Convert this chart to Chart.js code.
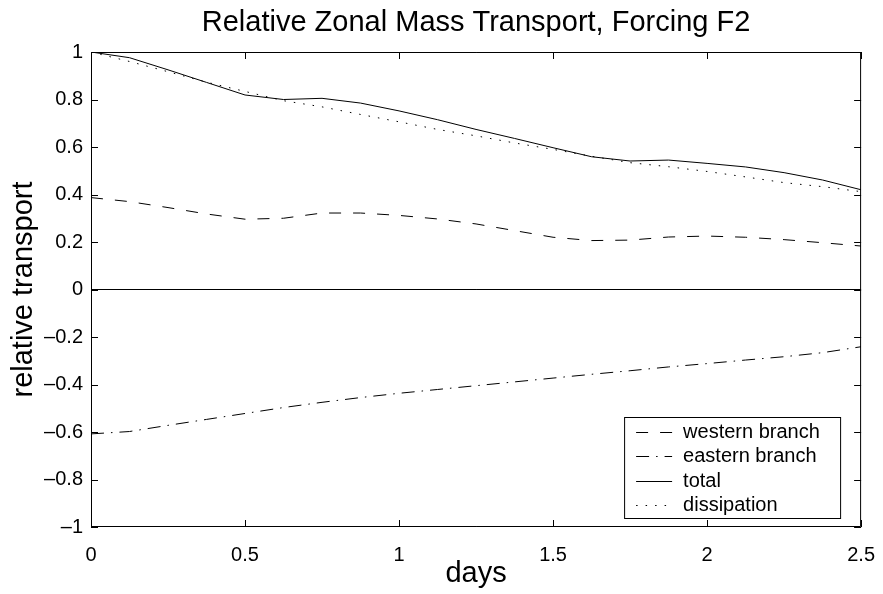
<!DOCTYPE html>
<html>
<head>
<meta charset="utf-8">
<title>Relative Zonal Mass Transport</title>
<script src="https://cdn.jsdelivr.net/npm/chart.js@4.4.1/dist/chart.umd.min.js"></script>
<style>
  body { margin: 0; background: #fff; }
  canvas { display: block; }
</style>
</head>
<body>
<canvas id="grafico" width="883" height="594"></canvas>
<script>
const days = [0, 0.125, 0.25, 0.375, 0.5, 0.625, 0.75, 0.875, 1, 1.125, 1.25,
              1.375, 1.5, 1.625, 1.75, 1.875, 2, 2.125, 2.25, 2.375, 2.5];
const western = [0.387, 0.37, 0.345, 0.318, 0.296, 0.30, 0.322, 0.322, 0.312, 0.297, 0.276,
                 0.248, 0.22, 0.206, 0.208, 0.221, 0.225, 0.22, 0.21, 0.197, 0.183];
const eastern = [-0.608, -0.598, -0.572, -0.547, -0.522, -0.497, -0.475, -0.455, -0.437, -0.421, -0.405,
                 -0.389, -0.373, -0.357, -0.342, -0.326, -0.312, -0.297, -0.283, -0.266, -0.241];
const total = [1.0, 0.976, 0.925, 0.872, 0.819, 0.80, 0.805, 0.785, 0.752, 0.715, 0.674,
               0.636, 0.597, 0.559, 0.541, 0.545, 0.531, 0.516, 0.492, 0.461, 0.42];
const dissipation = [1.0, 0.96, 0.917, 0.873, 0.834, 0.795, 0.769, 0.737, 0.706, 0.674, 0.647,
                     0.617, 0.59, 0.561, 0.534, 0.517, 0.497, 0.474, 0.45, 0.433, 0.412];
const seriesNames = ['western branch', 'eastern branch', 'total', 'dissipation'];
const xTickLabels = ['0', '0.5', '1', '1.5', '2', '2.5'];
const yTickLabels = ['\u20131', '\u20130.8', '\u20130.6', '\u20130.4', '\u20130.2', '0',
                     '0.2', '0.4', '0.6', '0.8', '1'];

const fonte = 'Helvetica, Arial, "Liberation Sans", sans-serif';

function pontos(valores) {
	return days.map((d, i) => ({x: d, y: valores[i]}));
}

// inward ticks on all four sides plus the box, matlab style
const moldura = {
	id: 'moldura',
	afterDraw(chart) {
		const ctx = chart.ctx;
		const a = chart.chartArea;
		const sx = chart.scales.x, sy = chart.scales.y;
		const len = 7;
		ctx.save();
		ctx.strokeStyle = '#000';
		ctx.lineWidth = 1;
		ctx.beginPath();
		ctx.rect(a.left + 0.5, a.top + 0.5, a.right - a.left - 1, a.bottom - a.top - 1);
		sx.ticks.forEach(t => {
			const px = Math.round(sx.getPixelForValue(t.value)) + 0.5;
			ctx.moveTo(px, a.bottom); ctx.lineTo(px, a.bottom - len);
			ctx.moveTo(px, a.top); ctx.lineTo(px, a.top + len);
		});
		sy.ticks.forEach(t => {
			const py = Math.round(sy.getPixelForValue(t.value)) + 0.5;
			ctx.moveTo(a.left, py); ctx.lineTo(a.left + len, py);
			ctx.moveTo(a.right, py); ctx.lineTo(a.right - len, py);
		});
		ctx.stroke();
		ctx.restore();
	}
};

// legend box inside the lower right corner of the plot
const legendaInterna = {
	id: 'legendaInterna',
	afterDraw(chart) {
		const ctx = chart.ctx;
		const a = chart.chartArea;
		const w = 216, h = 101;
		const x0 = a.right - 21 - w, y0 = a.bottom - 9 - h;
		ctx.save();
		ctx.fillStyle = '#fff';
		ctx.fillRect(x0, y0, w, h);
		ctx.strokeStyle = '#000';
		ctx.lineWidth = 1;
		ctx.strokeRect(x0 + 0.5, y0 + 0.5, w, h);
		ctx.font = '20px ' + fonte;
		ctx.textBaseline = 'middle';
		ctx.fillStyle = '#000';
		chart.data.datasets.forEach((ds, i) => {
			const yy = Math.round(y0 + 15 + i * 24.4) + 0.5;
			ctx.setLineDash(ds.borderDash || []);
			ctx.lineWidth = ds.borderWidth;
			ctx.beginPath();
			ctx.moveTo(x0 + 12, yy);
			ctx.lineTo(x0 + 48, yy);
			ctx.stroke();
			ctx.setLineDash([]);
			ctx.fillText(ds.label, x0 + 59, yy);
		});
		ctx.restore();
	}
};

const linha = (label, valores, dash) => ({
	label: label,
	data: pontos(valores),
	borderColor: '#000',
	borderWidth: 1,
	borderDash: dash,
	pointRadius: 0,
	tension: 0,
	fill: false
});

new Chart(document.getElementById('grafico').getContext('2d'), {
	type: 'line',
	data: {
		datasets: [
			linha(seriesNames[0], western, [12, 12]),
			linha(seriesNames[1], eastern, [13, 7, 1.5, 7]),
			linha(seriesNames[2], total, []),
			linha(seriesNames[3], dissipation, [1.5, 8])
		]
	},
	options: {
		responsive: false,
		animation: false,
		layout: {padding: {left: 0, right: 18, top: 0, bottom: 0}},
		plugins: {
			legend: {display: false},
			tooltip: {enabled: false},
			title: {
				display: true,
				text: 'Relative Zonal Mass Transport, Forcing F2',
				color: '#000',
				fullSize: false,
				font: {family: fonte, size: 29, weight: 'normal', lineHeight: 1.2},
				padding: {top: 5.6, bottom: 11.6}
			}
		},
		scales: {
			x: {
				type: 'linear',
				min: 0,
				max: 2.5,
				afterFit(scale) { scale.height = 67; },
				ticks: {
					stepSize: 0.5,
					padding: 8,
					color: '#000',
					maxRotation: 0,
					font: {family: fonte, size: 20},
					callback: (v, i) => xTickLabels[i]
				},
				grid: {display: false},
				border: {display: false},
				title: {
					display: true,
					text: 'days',
					color: '#000',
					font: {family: fonte, size: 29, lineHeight: 1.2},
					padding: {top: 0, bottom: 3}
				}
			},
			y: {
				min: -1,
				max: 1,
				afterFit(scale) { scale.width = 91; },
				ticks: {
					stepSize: 0.2,
					padding: 8,
					color: '#000',
					font: {family: fonte, size: 20},
					callback: (v, i) => yTickLabels[i]
				},
				grid: {
					drawTicks: false,
					lineWidth: 1,
					color: c => (c.tick && Math.abs(c.tick.value) < 1e-9) ? '#000' : 'rgba(0,0,0,0)'
				},
				border: {display: false},
				title: {
					display: true,
					text: 'relative transport',
					color: '#000',
					font: {family: fonte, size: 29, lineHeight: 1.2},
					padding: {top: 7, bottom: 0}
				}
			}
		}
	},
	plugins: [moldura, legendaInterna]
});
</script>
</body>
</html>
